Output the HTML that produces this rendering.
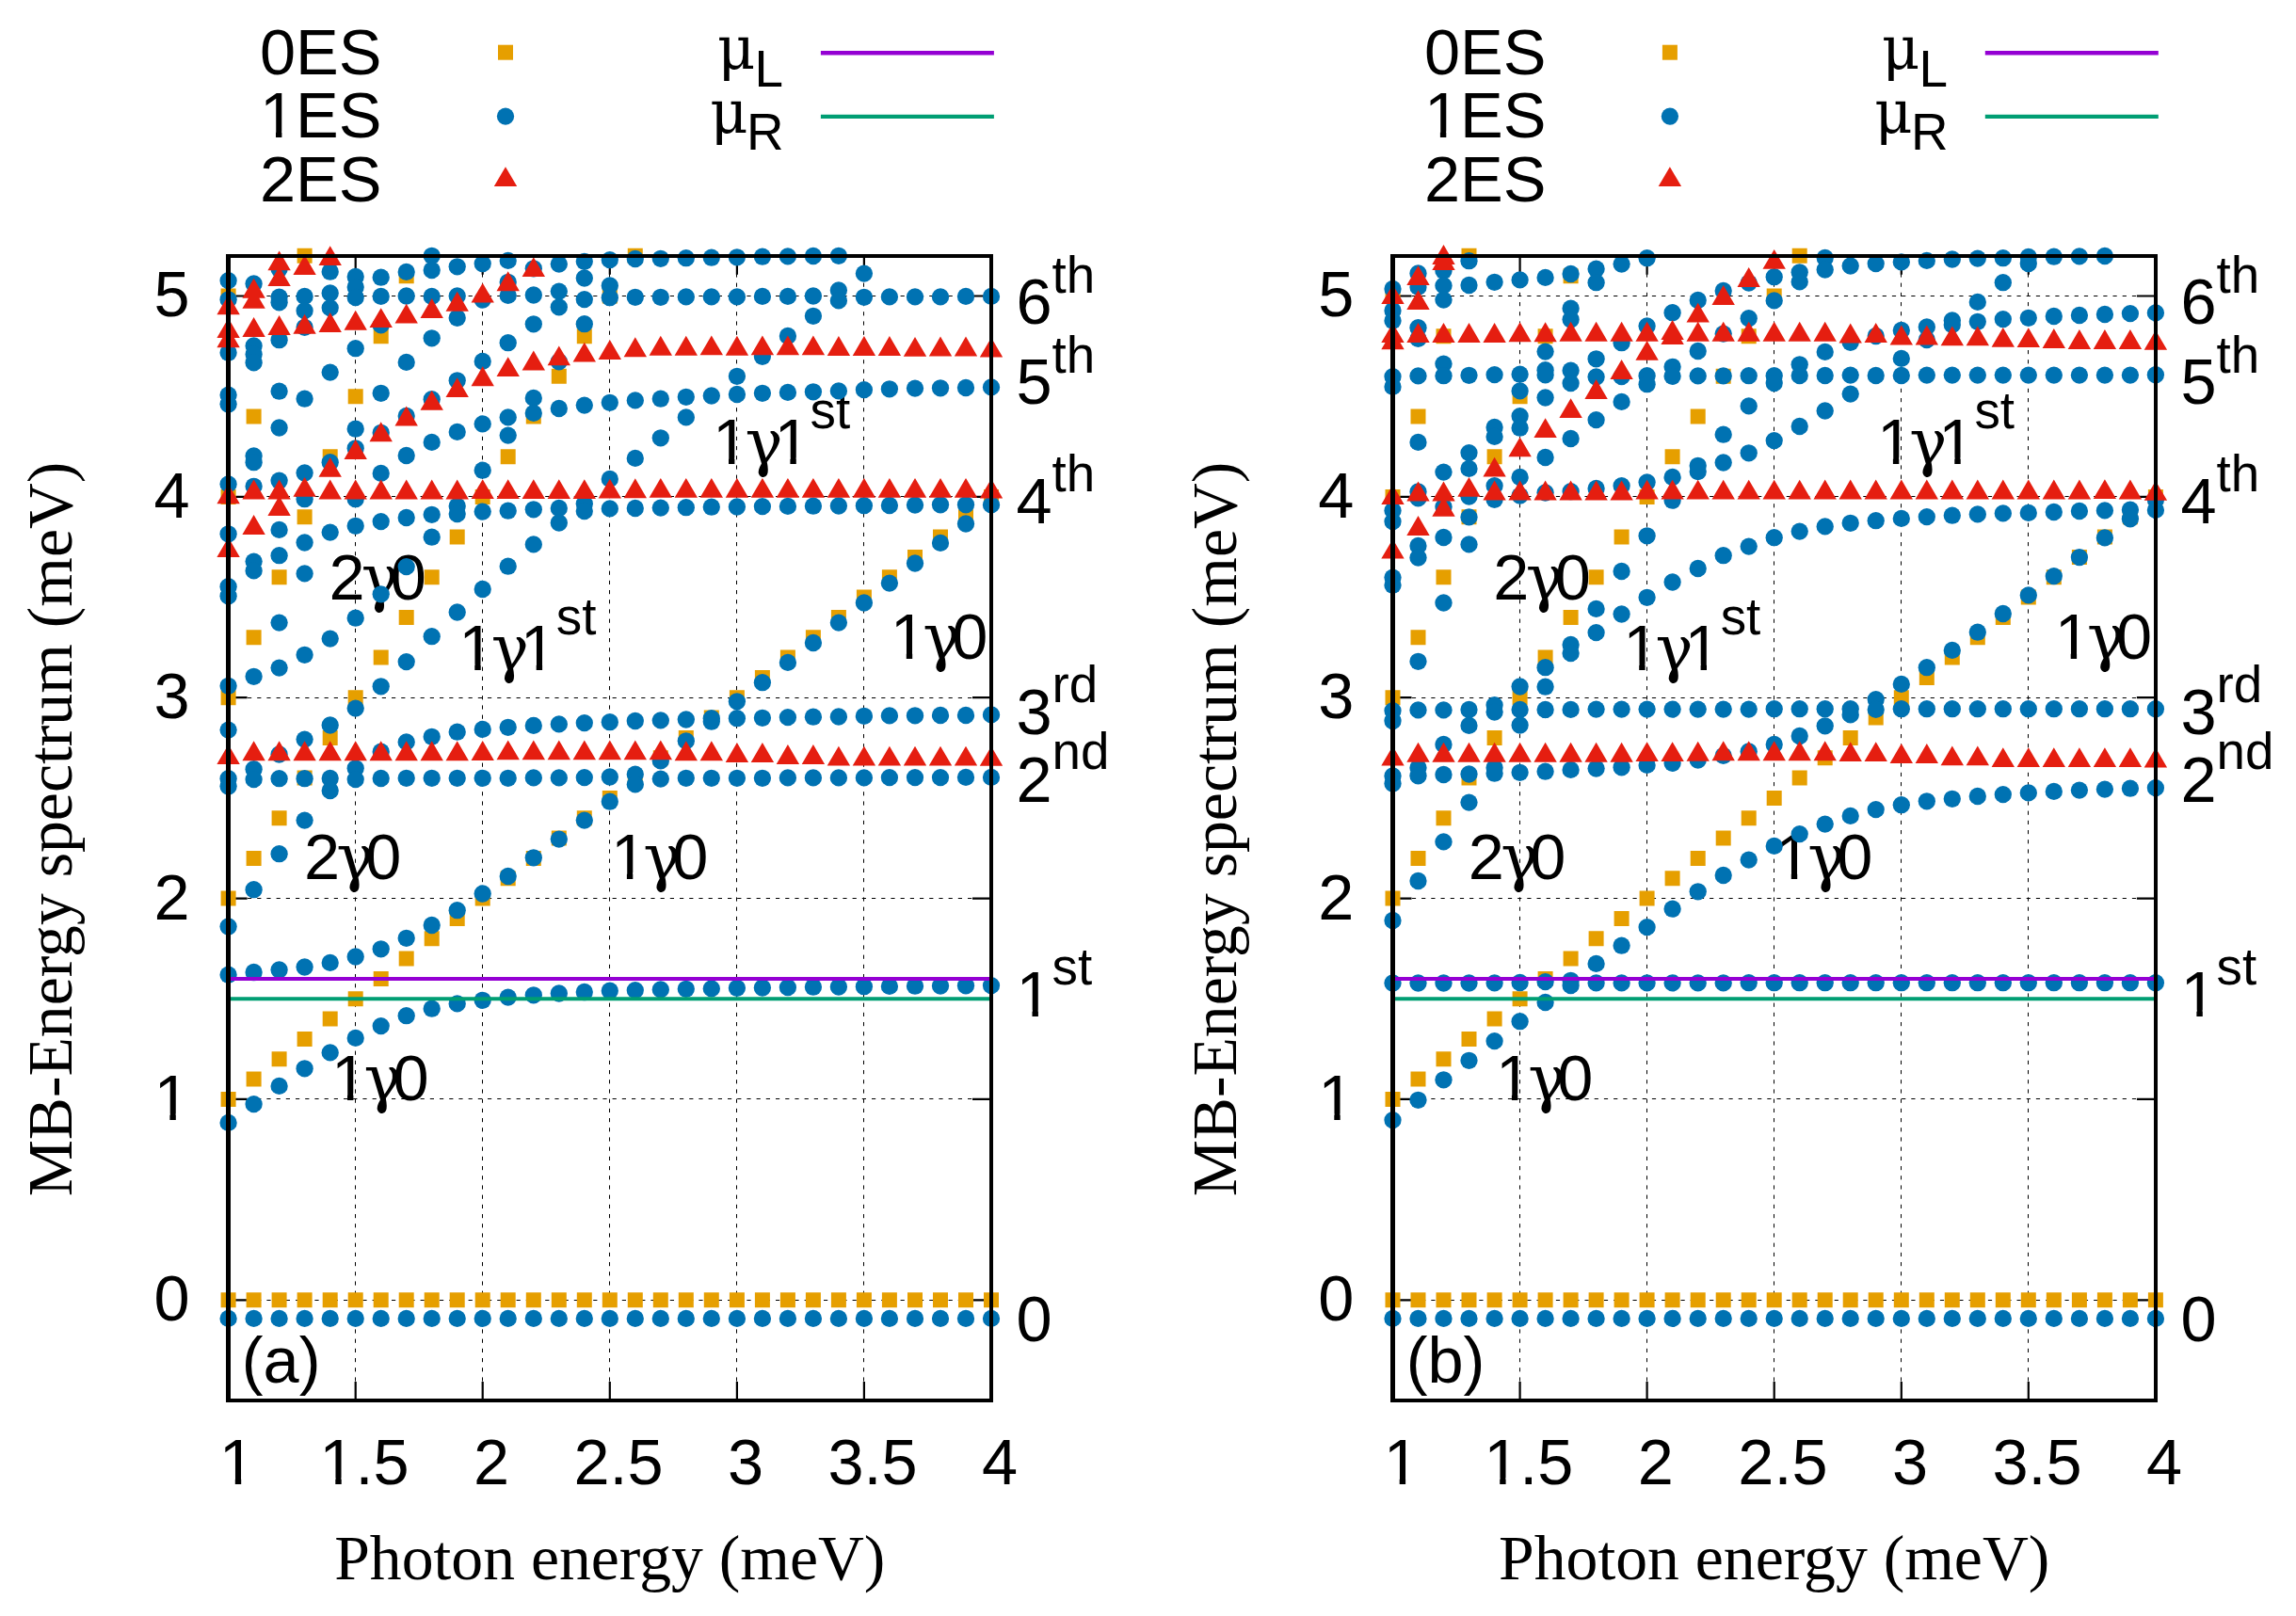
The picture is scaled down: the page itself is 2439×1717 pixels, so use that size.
<!DOCTYPE html>
<html lang="en"><head><meta charset="utf-8"><title>MB-Energy spectrum vs photon energy</title>
<style>
html,body{margin:0;padding:0;background:#fff;}
body{width:2439px;height:1717px;overflow:hidden;}
svg{display:block;}
text{fill:#000;}
.sa{font-family:"Liberation Sans", Arial, Helvetica, sans-serif;font-size:68.5px;}
.ss{font-family:"Liberation Sans", Arial, Helvetica, sans-serif;font-size:54.8px;}
.se{font-family:"Liberation Serif", "Times New Roman", Times, serif;font-size:67.7px;}
.gk{font-family:"DejaVu Serif", "Liberation Serif", serif;font-size:67px;}
.mu{font-family:"DejaVu Serif", "Liberation Serif", serif;font-size:62px;}
.grid{stroke:#000;stroke-width:1;stroke-dasharray:4.2 6;fill:none;}
.tick{stroke:#000;stroke-width:2.2;fill:none;}
.bord{stroke:#000;stroke-width:4.4;fill:none;}
.sq{fill:#E69F00;}.ci{fill:#0072B2;}.tr{fill:#E51E10;}
</style></head><body>
<svg width="2439" height="1717" viewBox="0 0 2439 1717">
<rect x="0" y="0" width="2439" height="1717" fill="#fff"/>
<defs>
<clipPath id="c1" clipPathUnits="userSpaceOnUse"><path clip-rule="evenodd" d="M-400 -300H900V300H-400ZM3.5 -6.6H17V1.5H3.5ZM23.4 -6.6H36.5V1.5H23.4Z"/></clipPath>
<clipPath id="c11" clipPathUnits="userSpaceOnUse"><path clip-rule="evenodd" d="M-400 -300H900V300H-400ZM3.5 -6.6H17V1.5H3.5ZM23.4 -6.6H36.5V1.5H23.4ZM68.9 -6.6H82.4V1.5H68.9ZM88.8 -6.6H101.9V1.5H88.8Z"/></clipPath>
<clipPath id="c01" clipPathUnits="userSpaceOnUse"><path clip-rule="evenodd" d="M-400 -300H900V300H-400ZM68.9 -6.6H82.4V1.5H68.9ZM88.8 -6.6H101.9V1.5H88.8Z"/></clipPath>
</defs>
<g id="panel-a">
<path class="grid" d="M242.6 1381.5H1053M242.6 1167.5H1053M242.6 954.5H1053M242.6 741.5H1053M242.6 527.5H1053M242.6 314.5H1053M377.5 1488V271.8M512.5 1488V271.8M647.5 1488V271.8M782.5 1488V271.8M917.5 1488V271.8"/>
<path class="tick" d="M242.6 1381.3h20M1053 1381.3h-20M242.6 1167.9h20M1053 1167.9h-20M242.6 954.6h20M1053 954.6h-20M242.6 741.2h20M1053 741.2h-20M242.6 527.9h20M1053 527.9h-20M242.6 314.5h20M1053 314.5h-20M377.7 1488v-20M377.7 271.8v20M512.7 1488v-20M512.7 271.8v20M647.8 1488v-20M647.8 271.8v20M782.9 1488v-20M782.9 271.8v20M917.9 1488v-20M917.9 271.8v20"/>
<text class="sa" transform="translate(256.8 1468.7) scale(1 1.01)">(a)</text>
<text class="sa" transform="translate(352 1168.5) scale(1 1.01)" clip-path="url(#c1)"><tspan x="0">1</tspan><tspan class="gk" x="34.4">γ</tspan><tspan x="65.4">0</tspan></text>
<text class="sa" transform="translate(322.9 933.8) scale(1 1.01)"><tspan x="0">2</tspan><tspan class="gk" x="34.4">γ</tspan><tspan x="65.4">0</tspan></text>
<text class="sa" transform="translate(648.9 934) scale(1 1.01)" clip-path="url(#c1)"><tspan x="0">1</tspan><tspan class="gk" x="34.4">γ</tspan><tspan x="65.4">0</tspan></text>
<text class="sa" transform="translate(945.8 700.1) scale(1 1.01)" clip-path="url(#c1)"><tspan x="0">1</tspan><tspan class="gk" x="34.4">γ</tspan><tspan x="65.4">0</tspan></text>
<text class="sa" transform="translate(349.4 636.5) scale(1 1.01)"><tspan x="0">2</tspan><tspan class="gk" x="34.4">γ</tspan><tspan x="65.4">0</tspan></text>
<text class="sa" transform="translate(487.3 712.4) scale(1 1.01)" clip-path="url(#c11)"><tspan x="0">1</tspan><tspan class="gk" x="34.4">γ</tspan><tspan x="65.4">1</tspan><tspan class="ss" dy="-38">st</tspan></text>
<text class="sa" transform="translate(757 492.9) scale(1 1.01)" clip-path="url(#c11)"><tspan x="0">1</tspan><tspan class="gk" x="34.4">γ</tspan><tspan x="65.4">1</tspan><tspan class="ss" dy="-38">st</tspan></text>
<path class="sq" d="M234.6 1373.3h16v16h-16zM234.6 1159.9h16v16h-16zM234.6 946.6h16v16h-16zM234.6 733.2h16v16h-16zM234.6 519.9h16v16h-16zM234.6 306.5h16v16h-16zM261.6 1373.3h16v16h-16zM261.6 1138.6h16v16h-16zM261.6 903.9h16v16h-16zM261.6 669.2h16v16h-16zM261.6 434.5h16v16h-16zM288.6 1373.3h16v16h-16zM288.6 1117.3h16v16h-16zM288.6 861.2h16v16h-16zM288.6 605.2h16v16h-16zM288.6 349.2h16v16h-16zM315.6 1373.3h16v16h-16zM315.6 1095.9h16v16h-16zM315.6 818.6h16v16h-16zM315.6 541.2h16v16h-16zM315.6 263.8h16v16h-16zM342.7 1373.3h16v16h-16zM342.7 1074.6h16v16h-16zM342.7 775.9h16v16h-16zM342.7 477.2h16v16h-16zM369.7 1373.3h16v16h-16zM369.7 1053.3h16v16h-16zM369.7 733.2h16v16h-16zM369.7 413.2h16v16h-16zM396.7 1373.3h16v16h-16zM396.7 1031.9h16v16h-16zM396.7 690.5h16v16h-16zM396.7 349.2h16v16h-16zM423.7 1373.3h16v16h-16zM423.7 1010.6h16v16h-16zM423.7 647.9h16v16h-16zM423.7 285.2h16v16h-16zM450.7 1373.3h16v16h-16zM450.7 989.3h16v16h-16zM450.7 605.2h16v16h-16zM477.7 1373.3h16v16h-16zM477.7 967.9h16v16h-16zM477.7 562.5h16v16h-16zM504.7 1373.3h16v16h-16zM504.7 946.6h16v16h-16zM504.7 519.9h16v16h-16zM531.7 1373.3h16v16h-16zM531.7 925.2h16v16h-16zM531.7 477.2h16v16h-16zM558.8 1373.3h16v16h-16zM558.8 903.9h16v16h-16zM558.8 434.5h16v16h-16zM585.8 1373.3h16v16h-16zM585.8 882.6h16v16h-16zM585.8 391.8h16v16h-16zM612.8 1373.3h16v16h-16zM612.8 861.2h16v16h-16zM612.8 349.2h16v16h-16zM639.8 1373.3h16v16h-16zM639.8 839.9h16v16h-16zM639.8 306.5h16v16h-16zM666.8 1373.3h16v16h-16zM666.8 818.6h16v16h-16zM666.8 263.8h16v16h-16zM693.8 1373.3h16v16h-16zM693.8 797.2h16v16h-16zM720.8 1373.3h16v16h-16zM720.8 775.9h16v16h-16zM747.8 1373.3h16v16h-16zM747.8 754.6h16v16h-16zM774.9 1373.3h16v16h-16zM774.9 733.2h16v16h-16zM801.9 1373.3h16v16h-16zM801.9 711.9h16v16h-16zM828.9 1373.3h16v16h-16zM828.9 690.5h16v16h-16zM855.9 1373.3h16v16h-16zM855.9 669.2h16v16h-16zM882.9 1373.3h16v16h-16zM882.9 647.9h16v16h-16zM909.9 1373.3h16v16h-16zM909.9 626.5h16v16h-16zM936.9 1373.3h16v16h-16zM936.9 605.2h16v16h-16zM964 1373.3h16v16h-16zM964 583.9h16v16h-16zM991 1373.3h16v16h-16zM991 562.5h16v16h-16zM1018 1373.3h16v16h-16zM1018 541.2h16v16h-16zM1045 1373.3h16v16h-16zM1045 519.9h16v16h-16z"/>
<g class="ci"><circle cx="242.6" cy="298.1" r="9.15"/><circle cx="242.6" cy="318.3" r="9.15"/><circle cx="242.6" cy="374.7" r="9.15"/><circle cx="242.6" cy="419.7" r="9.15"/><circle cx="242.6" cy="429.5" r="9.15"/><circle cx="242.6" cy="514.4" r="9.15"/><circle cx="242.6" cy="567.3" r="9.15"/><circle cx="242.6" cy="623.2" r="9.15"/><circle cx="242.6" cy="633.3" r="9.15"/><circle cx="242.6" cy="728.8" r="9.15"/><circle cx="242.6" cy="775.6" r="9.15"/><circle cx="242.6" cy="827.2" r="9.15"/><circle cx="242.6" cy="835.5" r="9.15"/><circle cx="242.6" cy="984.5" r="9.15"/><circle cx="242.6" cy="1035.7" r="9.15"/><circle cx="242.6" cy="1192.9" r="9.15"/><circle cx="242.6" cy="1400.9" r="9.15"/><circle cx="269.6" cy="301.5" r="9.15"/><circle cx="269.6" cy="367.4" r="9.15"/><circle cx="269.6" cy="376.4" r="9.15"/><circle cx="269.6" cy="385.3" r="9.15"/><circle cx="269.6" cy="484.5" r="9.15"/><circle cx="269.6" cy="491.2" r="9.15"/><circle cx="269.6" cy="516.8" r="9.15"/><circle cx="269.6" cy="596.6" r="9.15"/><circle cx="269.6" cy="606.4" r="9.15"/><circle cx="269.6" cy="718.8" r="9.15"/><circle cx="269.6" cy="817.2" r="9.15"/><circle cx="269.6" cy="828.1" r="9.15"/><circle cx="269.6" cy="945.2" r="9.15"/><circle cx="269.6" cy="1033" r="9.15"/><circle cx="269.6" cy="1173.1" r="9.15"/><circle cx="269.6" cy="1400.9" r="9.15"/><circle cx="296.6" cy="285.7" r="9.15"/><circle cx="296.6" cy="315.6" r="9.15"/><circle cx="296.6" cy="321.3" r="9.15"/><circle cx="296.6" cy="361.2" r="9.15"/><circle cx="296.6" cy="415.7" r="9.15"/><circle cx="296.6" cy="454.5" r="9.15"/><circle cx="296.6" cy="510.7" r="9.15"/><circle cx="296.6" cy="562.9" r="9.15"/><circle cx="296.6" cy="590.2" r="9.15"/><circle cx="296.6" cy="661.6" r="9.15"/><circle cx="296.6" cy="709.6" r="9.15"/><circle cx="296.6" cy="801.5" r="9.15"/><circle cx="296.6" cy="827.2" r="9.15"/><circle cx="296.6" cy="907.2" r="9.15"/><circle cx="296.6" cy="1030.5" r="9.15"/><circle cx="296.6" cy="1153.9" r="9.15"/><circle cx="296.6" cy="1400.9" r="9.15"/><circle cx="323.6" cy="314.9" r="9.15"/><circle cx="323.6" cy="330.1" r="9.15"/><circle cx="323.6" cy="347.8" r="9.15"/><circle cx="323.6" cy="423.7" r="9.15"/><circle cx="323.6" cy="502.5" r="9.15"/><circle cx="323.6" cy="530.2" r="9.15"/><circle cx="323.6" cy="576.5" r="9.15"/><circle cx="323.6" cy="609.4" r="9.15"/><circle cx="323.6" cy="695.8" r="9.15"/><circle cx="323.6" cy="785.6" r="9.15"/><circle cx="323.6" cy="827.2" r="9.15"/><circle cx="323.6" cy="871.6" r="9.15"/><circle cx="323.6" cy="1027.5" r="9.15"/><circle cx="323.6" cy="1135.3" r="9.15"/><circle cx="323.6" cy="1400.9" r="9.15"/><circle cx="350.7" cy="288.7" r="9.15"/><circle cx="350.7" cy="311.5" r="9.15"/><circle cx="350.7" cy="327.1" r="9.15"/><circle cx="350.7" cy="395.6" r="9.15"/><circle cx="350.7" cy="491.2" r="9.15"/><circle cx="350.7" cy="565.6" r="9.15"/><circle cx="350.7" cy="678.6" r="9.15"/><circle cx="350.7" cy="770.5" r="9.15"/><circle cx="350.7" cy="827" r="9.15"/><circle cx="350.7" cy="840" r="9.15"/><circle cx="350.7" cy="1022.9" r="9.15"/><circle cx="350.7" cy="1118.4" r="9.15"/><circle cx="350.7" cy="1400.9" r="9.15"/><circle cx="377.7" cy="294" r="9.15"/><circle cx="377.7" cy="304.9" r="9.15"/><circle cx="377.7" cy="316" r="9.15"/><circle cx="377.7" cy="370.2" r="9.15"/><circle cx="377.7" cy="455.7" r="9.15"/><circle cx="377.7" cy="476.3" r="9.15"/><circle cx="377.7" cy="530.2" r="9.15"/><circle cx="377.7" cy="558.8" r="9.15"/><circle cx="377.7" cy="656.7" r="9.15"/><circle cx="377.7" cy="752.6" r="9.15"/><circle cx="377.7" cy="816.3" r="9.15"/><circle cx="377.7" cy="828.1" r="9.15"/><circle cx="377.7" cy="1016.5" r="9.15"/><circle cx="377.7" cy="1102.9" r="9.15"/><circle cx="377.7" cy="1400.9" r="9.15"/><circle cx="404.7" cy="294.7" r="9.15"/><circle cx="404.7" cy="314.9" r="9.15"/><circle cx="404.7" cy="345.4" r="9.15"/><circle cx="404.7" cy="417.8" r="9.15"/><circle cx="404.7" cy="459.8" r="9.15"/><circle cx="404.7" cy="502.9" r="9.15"/><circle cx="404.7" cy="554.1" r="9.15"/><circle cx="404.7" cy="631.3" r="9.15"/><circle cx="404.7" cy="729.3" r="9.15"/><circle cx="404.7" cy="798.7" r="9.15"/><circle cx="404.7" cy="827" r="9.15"/><circle cx="404.7" cy="1008.3" r="9.15"/><circle cx="404.7" cy="1090.1" r="9.15"/><circle cx="404.7" cy="1400.9" r="9.15"/><circle cx="431.7" cy="288.9" r="9.15"/><circle cx="431.7" cy="314.5" r="9.15"/><circle cx="431.7" cy="384.9" r="9.15"/><circle cx="431.7" cy="441.9" r="9.15"/><circle cx="431.7" cy="484" r="9.15"/><circle cx="431.7" cy="550" r="9.15"/><circle cx="431.7" cy="602.1" r="9.15"/><circle cx="431.7" cy="703.1" r="9.15"/><circle cx="431.7" cy="788.4" r="9.15"/><circle cx="431.7" cy="826.8" r="9.15"/><circle cx="431.7" cy="996.8" r="9.15"/><circle cx="431.7" cy="1079.2" r="9.15"/><circle cx="431.7" cy="1400.9" r="9.15"/><circle cx="458.7" cy="271.8" r="9.15"/><circle cx="458.7" cy="287" r="9.15"/><circle cx="458.7" cy="314.9" r="9.15"/><circle cx="458.7" cy="359.3" r="9.15"/><circle cx="458.7" cy="424.2" r="9.15"/><circle cx="458.7" cy="469.9" r="9.15"/><circle cx="458.7" cy="546.8" r="9.15"/><circle cx="458.7" cy="570.7" r="9.15"/><circle cx="458.7" cy="676.2" r="9.15"/><circle cx="458.7" cy="782.8" r="9.15"/><circle cx="458.7" cy="826.8" r="9.15"/><circle cx="458.7" cy="983" r="9.15"/><circle cx="458.7" cy="1071.7" r="9.15"/><circle cx="458.7" cy="1400.9" r="9.15"/><circle cx="485.7" cy="283.3" r="9.15"/><circle cx="485.7" cy="314.5" r="9.15"/><circle cx="485.7" cy="337.8" r="9.15"/><circle cx="485.7" cy="404.3" r="9.15"/><circle cx="485.7" cy="458.9" r="9.15"/><circle cx="485.7" cy="537.7" r="9.15"/><circle cx="485.7" cy="546" r="9.15"/><circle cx="485.7" cy="650.5" r="9.15"/><circle cx="485.7" cy="777.7" r="9.15"/><circle cx="485.7" cy="826.8" r="9.15"/><circle cx="485.7" cy="967.2" r="9.15"/><circle cx="485.7" cy="1066.4" r="9.15"/><circle cx="485.7" cy="1400.9" r="9.15"/><circle cx="512.7" cy="280.1" r="9.15"/><circle cx="512.7" cy="318.6" r="9.15"/><circle cx="512.7" cy="383.9" r="9.15"/><circle cx="512.7" cy="450.4" r="9.15"/><circle cx="512.7" cy="499.7" r="9.15"/><circle cx="512.7" cy="543.6" r="9.15"/><circle cx="512.7" cy="626" r="9.15"/><circle cx="512.7" cy="774.9" r="9.15"/><circle cx="512.7" cy="826.8" r="9.15"/><circle cx="512.7" cy="949.5" r="9.15"/><circle cx="512.7" cy="1062.8" r="9.15"/><circle cx="512.7" cy="1400.9" r="9.15"/><circle cx="539.7" cy="276.9" r="9.15"/><circle cx="539.7" cy="299.8" r="9.15"/><circle cx="539.7" cy="313.9" r="9.15"/><circle cx="539.7" cy="364.2" r="9.15"/><circle cx="539.7" cy="443.4" r="9.15"/><circle cx="539.7" cy="462.6" r="9.15"/><circle cx="539.7" cy="542.7" r="9.15"/><circle cx="539.7" cy="601.7" r="9.15"/><circle cx="539.7" cy="772.8" r="9.15"/><circle cx="539.7" cy="826.8" r="9.15"/><circle cx="539.7" cy="931" r="9.15"/><circle cx="539.7" cy="1059.6" r="9.15"/><circle cx="539.7" cy="1400.9" r="9.15"/><circle cx="566.8" cy="285.3" r="9.15"/><circle cx="566.8" cy="313.5" r="9.15"/><circle cx="566.8" cy="344.3" r="9.15"/><circle cx="566.8" cy="422.9" r="9.15"/><circle cx="566.8" cy="438.9" r="9.15"/><circle cx="566.8" cy="541.3" r="9.15"/><circle cx="566.8" cy="578.4" r="9.15"/><circle cx="566.8" cy="770.9" r="9.15"/><circle cx="566.8" cy="826.4" r="9.15"/><circle cx="566.8" cy="911.3" r="9.15"/><circle cx="566.8" cy="1057.3" r="9.15"/><circle cx="566.8" cy="1400.9" r="9.15"/><circle cx="593.8" cy="280.6" r="9.15"/><circle cx="593.8" cy="309.6" r="9.15"/><circle cx="593.8" cy="326.3" r="9.15"/><circle cx="593.8" cy="384.3" r="9.15"/><circle cx="593.8" cy="434" r="9.15"/><circle cx="593.8" cy="540" r="9.15"/><circle cx="593.8" cy="555.5" r="9.15"/><circle cx="593.8" cy="769.4" r="9.15"/><circle cx="593.8" cy="826.4" r="9.15"/><circle cx="593.8" cy="891.6" r="9.15"/><circle cx="593.8" cy="1055.5" r="9.15"/><circle cx="593.8" cy="1400.9" r="9.15"/><circle cx="620.8" cy="277.8" r="9.15"/><circle cx="620.8" cy="295.5" r="9.15"/><circle cx="620.8" cy="318.1" r="9.15"/><circle cx="620.8" cy="344.2" r="9.15"/><circle cx="620.8" cy="430.6" r="9.15"/><circle cx="620.8" cy="535.3" r="9.15"/><circle cx="620.8" cy="543" r="9.15"/><circle cx="620.8" cy="768.1" r="9.15"/><circle cx="620.8" cy="826.1" r="9.15"/><circle cx="620.8" cy="871.6" r="9.15"/><circle cx="620.8" cy="1054" r="9.15"/><circle cx="620.8" cy="1400.9" r="9.15"/><circle cx="647.8" cy="276.1" r="9.15"/><circle cx="647.8" cy="303.4" r="9.15"/><circle cx="647.8" cy="316.2" r="9.15"/><circle cx="647.8" cy="427.8" r="9.15"/><circle cx="647.8" cy="508.9" r="9.15"/><circle cx="647.8" cy="540.4" r="9.15"/><circle cx="647.8" cy="767.2" r="9.15"/><circle cx="647.8" cy="825.5" r="9.15"/><circle cx="647.8" cy="851.7" r="9.15"/><circle cx="647.8" cy="1052.7" r="9.15"/><circle cx="647.8" cy="1400.9" r="9.15"/><circle cx="674.8" cy="275" r="9.15"/><circle cx="674.8" cy="315.8" r="9.15"/><circle cx="674.8" cy="425.4" r="9.15"/><circle cx="674.8" cy="486.9" r="9.15"/><circle cx="674.8" cy="540" r="9.15"/><circle cx="674.8" cy="766" r="9.15"/><circle cx="674.8" cy="822.7" r="9.15"/><circle cx="674.8" cy="833.4" r="9.15"/><circle cx="674.8" cy="1052.1" r="9.15"/><circle cx="674.8" cy="1400.9" r="9.15"/><circle cx="701.8" cy="274.8" r="9.15"/><circle cx="701.8" cy="315.8" r="9.15"/><circle cx="701.8" cy="423.7" r="9.15"/><circle cx="701.8" cy="465.3" r="9.15"/><circle cx="701.8" cy="539.6" r="9.15"/><circle cx="701.8" cy="765.4" r="9.15"/><circle cx="701.8" cy="808.4" r="9.15"/><circle cx="701.8" cy="827.6" r="9.15"/><circle cx="701.8" cy="1051.4" r="9.15"/><circle cx="701.8" cy="1400.9" r="9.15"/><circle cx="728.8" cy="274.2" r="9.15"/><circle cx="728.8" cy="315.4" r="9.15"/><circle cx="728.8" cy="421.8" r="9.15"/><circle cx="728.8" cy="443.4" r="9.15"/><circle cx="728.8" cy="539.2" r="9.15"/><circle cx="728.8" cy="764.5" r="9.15"/><circle cx="728.8" cy="787.3" r="9.15"/><circle cx="728.8" cy="826.8" r="9.15"/><circle cx="728.8" cy="1050.8" r="9.15"/><circle cx="728.8" cy="1400.9" r="9.15"/><circle cx="755.8" cy="273.7" r="9.15"/><circle cx="755.8" cy="315.4" r="9.15"/><circle cx="755.8" cy="420.5" r="9.15"/><circle cx="755.8" cy="538.7" r="9.15"/><circle cx="755.8" cy="763.2" r="9.15"/><circle cx="755.8" cy="766.7" r="9.15"/><circle cx="755.8" cy="826.8" r="9.15"/><circle cx="755.8" cy="1050.4" r="9.15"/><circle cx="755.8" cy="1400.9" r="9.15"/><circle cx="782.9" cy="273.3" r="9.15"/><circle cx="782.9" cy="315.4" r="9.15"/><circle cx="782.9" cy="399.8" r="9.15"/><circle cx="782.9" cy="419" r="9.15"/><circle cx="782.9" cy="538.5" r="9.15"/><circle cx="782.9" cy="745.3" r="9.15"/><circle cx="782.9" cy="763.2" r="9.15"/><circle cx="782.9" cy="826.8" r="9.15"/><circle cx="782.9" cy="1049.8" r="9.15"/><circle cx="782.9" cy="1400.9" r="9.15"/><circle cx="809.9" cy="272.7" r="9.15"/><circle cx="809.9" cy="314.9" r="9.15"/><circle cx="809.9" cy="378.8" r="9.15"/><circle cx="809.9" cy="417.8" r="9.15"/><circle cx="809.9" cy="538.1" r="9.15"/><circle cx="809.9" cy="725.2" r="9.15"/><circle cx="809.9" cy="762.8" r="9.15"/><circle cx="809.9" cy="826.8" r="9.15"/><circle cx="809.9" cy="1049.5" r="9.15"/><circle cx="809.9" cy="1400.9" r="9.15"/><circle cx="836.9" cy="272.4" r="9.15"/><circle cx="836.9" cy="314.9" r="9.15"/><circle cx="836.9" cy="357" r="9.15"/><circle cx="836.9" cy="416.9" r="9.15"/><circle cx="836.9" cy="537.9" r="9.15"/><circle cx="836.9" cy="703.9" r="9.15"/><circle cx="836.9" cy="762.1" r="9.15"/><circle cx="836.9" cy="826.4" r="9.15"/><circle cx="836.9" cy="1049.1" r="9.15"/><circle cx="836.9" cy="1400.9" r="9.15"/><circle cx="863.9" cy="272" r="9.15"/><circle cx="863.9" cy="314.5" r="9.15"/><circle cx="863.9" cy="335.8" r="9.15"/><circle cx="863.9" cy="416.3" r="9.15"/><circle cx="863.9" cy="537.7" r="9.15"/><circle cx="863.9" cy="683" r="9.15"/><circle cx="863.9" cy="761.7" r="9.15"/><circle cx="863.9" cy="826.4" r="9.15"/><circle cx="863.9" cy="1048.7" r="9.15"/><circle cx="863.9" cy="1400.9" r="9.15"/><circle cx="890.9" cy="271.8" r="9.15"/><circle cx="890.9" cy="308.5" r="9.15"/><circle cx="890.9" cy="319.4" r="9.15"/><circle cx="890.9" cy="415.4" r="9.15"/><circle cx="890.9" cy="537.5" r="9.15"/><circle cx="890.9" cy="661.6" r="9.15"/><circle cx="890.9" cy="761.5" r="9.15"/><circle cx="890.9" cy="826.4" r="9.15"/><circle cx="890.9" cy="1048.5" r="9.15"/><circle cx="890.9" cy="1400.9" r="9.15"/><circle cx="917.9" cy="290.6" r="9.15"/><circle cx="917.9" cy="315.8" r="9.15"/><circle cx="917.9" cy="414.1" r="9.15"/><circle cx="917.9" cy="537.2" r="9.15"/><circle cx="917.9" cy="640.5" r="9.15"/><circle cx="917.9" cy="760.8" r="9.15"/><circle cx="917.9" cy="826.4" r="9.15"/><circle cx="917.9" cy="1048.2" r="9.15"/><circle cx="917.9" cy="1400.9" r="9.15"/><circle cx="944.9" cy="315.4" r="9.15"/><circle cx="944.9" cy="413.3" r="9.15"/><circle cx="944.9" cy="537" r="9.15"/><circle cx="944.9" cy="619.6" r="9.15"/><circle cx="944.9" cy="760.4" r="9.15"/><circle cx="944.9" cy="826.1" r="9.15"/><circle cx="944.9" cy="1047.9" r="9.15"/><circle cx="944.9" cy="1400.9" r="9.15"/><circle cx="972" cy="315.4" r="9.15"/><circle cx="972" cy="412.6" r="9.15"/><circle cx="972" cy="536.6" r="9.15"/><circle cx="972" cy="598.5" r="9.15"/><circle cx="972" cy="760.3" r="9.15"/><circle cx="972" cy="826.1" r="9.15"/><circle cx="972" cy="1047.7" r="9.15"/><circle cx="972" cy="1400.9" r="9.15"/><circle cx="999" cy="315.4" r="9.15"/><circle cx="999" cy="412.3" r="9.15"/><circle cx="999" cy="536.3" r="9.15"/><circle cx="999" cy="576.9" r="9.15"/><circle cx="999" cy="760" r="9.15"/><circle cx="999" cy="826.1" r="9.15"/><circle cx="999" cy="1047.5" r="9.15"/><circle cx="999" cy="1400.9" r="9.15"/><circle cx="1026" cy="314.9" r="9.15"/><circle cx="1026" cy="412" r="9.15"/><circle cx="1026" cy="536.3" r="9.15"/><circle cx="1026" cy="556.5" r="9.15"/><circle cx="1026" cy="760" r="9.15"/><circle cx="1026" cy="825.9" r="9.15"/><circle cx="1026" cy="1047.3" r="9.15"/><circle cx="1026" cy="1400.9" r="9.15"/><circle cx="1053" cy="314.9" r="9.15"/><circle cx="1053" cy="411.4" r="9.15"/><circle cx="1053" cy="536.4" r="9.15"/><circle cx="1053" cy="759.4" r="9.15"/><circle cx="1053" cy="825.9" r="9.15"/><circle cx="1053" cy="1047.1" r="9.15"/><circle cx="1053" cy="1400.9" r="9.15"/></g>
<path class="tr" d="M242.6 313.3L254.8 334.2H230.4zM242.6 338.1L254.8 359H230.4zM242.6 348.3L254.8 369.2H230.4zM242.6 514.3L254.8 535.2H230.4zM242.6 571L254.8 591.9H230.4zM242.6 791L254.8 811.9H230.4zM269.6 295.8L281.8 316.7H257.4zM269.6 306.9L281.8 327.8H257.4zM269.6 337L281.8 357.9H257.4zM269.6 509.6L281.8 530.5H257.4zM269.6 547.1L281.8 568H257.4zM269.6 787.3L281.8 808.2H257.4zM296.6 266.4L308.8 287.3H284.4zM296.6 283.2L308.8 304.1H284.4zM296.6 335.1L308.8 356H284.4zM296.6 509.6L308.8 530.5H284.4zM296.6 527.1L308.8 548H284.4zM296.6 787.3L308.8 808.2H284.4zM323.6 271.1L335.8 292H311.4zM323.6 333.8L335.8 354.7H311.4zM323.6 506.9L335.8 527.8H311.4zM323.6 787.3L335.8 808.2H311.4zM350.7 261.2L362.9 282.1H338.5zM350.7 332.1L362.9 353H338.5zM350.7 485.9L362.9 506.8H338.5zM350.7 509.6L362.9 530.5H338.5zM350.7 787.3L362.9 808.2H338.5zM377.7 329.8L389.9 350.7H365.5zM377.7 467.1L389.9 488H365.5zM377.7 509.6L389.9 530.5H365.5zM377.7 787.3L389.9 808.2H365.5zM404.7 327.2L416.9 348.1H392.5zM404.7 448.3L416.9 469.2H392.5zM404.7 509.6L416.9 530.5H392.5zM404.7 787.3L416.9 808.2H392.5zM431.7 322.7L443.9 343.6H419.5zM431.7 431.5L443.9 452.4H419.5zM431.7 509.6L443.9 530.5H419.5zM431.7 787.3L443.9 808.2H419.5zM458.7 317.1L470.9 338H446.5zM458.7 414.9L470.9 435.8H446.5zM458.7 509.6L470.9 530.5H446.5zM458.7 787.3L470.9 808.2H446.5zM485.7 309.8L497.9 330.7H473.5zM485.7 401.2L497.9 422.1H473.5zM485.7 509.6L497.9 530.5H473.5zM485.7 787.3L497.9 808.2H473.5zM512.7 300.7L524.9 321.6H500.5zM512.7 389.3L524.9 410.2H500.5zM512.7 509.2L524.9 530.1H500.5zM512.7 787L524.9 807.9H500.5zM539.7 288.3L551.9 309.2H527.5zM539.7 379.2L551.9 400.1H527.5zM539.7 509.2L551.9 530.1H527.5zM539.7 786.4L551.9 807.3H527.5zM566.8 273.2L579 294.1H554.6zM566.8 372.5L579 393.4H554.6zM566.8 509.2L579 530.1H554.6zM566.8 786.4L579 807.3H554.6zM593.8 367.4L606 388.3H581.6zM593.8 509.2L606 530.1H581.6zM593.8 786.4L606 807.3H581.6zM620.8 363.7L633 384.6H608.6zM620.8 509.2L633 530.1H608.6zM620.8 786.4L633 807.3H608.6zM647.8 361L660 381.9H635.6zM647.8 508.7L660 529.6H635.6zM647.8 786.4L660 807.3H635.6zM674.8 358.3L687 379.2H662.6zM674.8 508.3L687 529.2H662.6zM674.8 786.4L687 807.3H662.6zM701.8 356.8L714 377.7H689.6zM701.8 507.9L714 528.8H689.6zM701.8 786.4L714 807.3H689.6zM728.8 356.8L741 377.7H716.6zM728.8 507.9L741 528.8H716.6zM728.8 787.3L741 808.2H716.6zM755.8 356.4L768 377.3H743.6zM755.8 507.9L768 528.8H743.6zM755.8 787.3L768 808.2H743.6zM782.9 356.8L795.1 377.7H770.7zM782.9 507.9L795.1 528.8H770.7zM782.9 789.1L795.1 810H770.7zM809.9 356.4L822.1 377.3H797.7zM809.9 507.9L822.1 528.8H797.7zM809.9 789.1L822.1 810H797.7zM836.9 356.4L849.1 377.3H824.7zM836.9 507.9L849.1 528.8H824.7zM836.9 791L849.1 811.9H824.7zM863.9 356.4L876.1 377.3H851.7zM863.9 507.9L876.1 528.8H851.7zM863.9 791L876.1 811.9H851.7zM890.9 357L903.1 377.9H878.7zM890.9 507.9L903.1 528.8H878.7zM890.9 792.7L903.1 813.6H878.7zM917.9 357L930.1 377.9H905.7zM917.9 507.9L930.1 528.8H905.7zM917.9 792.7L930.1 813.6H905.7zM944.9 357L957.1 377.9H932.7zM944.9 507.9L957.1 528.8H932.7zM944.9 792.7L957.1 813.6H932.7zM972 357.9L984.2 378.8H959.8zM972 507.9L984.2 528.8H959.8zM972 792.7L984.2 813.6H959.8zM999 357.5L1011.2 378.4H986.8zM999 507.9L1011.2 528.8H986.8zM999 792.7L1011.2 813.6H986.8zM1026 357.5L1038.2 378.4H1013.8zM1026 507.9L1038.2 528.8H1013.8zM1026 792.7L1038.2 813.6H1013.8zM1053 358.7L1065.2 379.6H1040.8zM1053 508.7L1065.2 529.6H1040.8zM1053 792.9L1065.2 813.8H1040.8z"/>
<path d="M242.6 1039.9H1053" stroke="#9400D3" stroke-width="4" fill="none"/>
<path d="M242.6 1061.3H1053" stroke="#009E73" stroke-width="4" fill="none"/>
<path fill="#000" d="M240 270H245V1490H240ZM1051 270H1055V1490H1051ZM240 270H1055V274H240ZM240 1486H1055V1490H240Z"/>
<text class="sa" transform="translate(163.4 1403.2) scale(1 1.01)">0</text>
<text class="sa" transform="translate(163.4 1189.8) scale(1 1.01)" clip-path="url(#c1)">1</text>
<text class="sa" transform="translate(163.4 976.5) scale(1 1.01)">2</text>
<text class="sa" transform="translate(163.4 763.1) scale(1 1.01)">3</text>
<text class="sa" transform="translate(163.4 549.8) scale(1 1.01)">4</text>
<text class="sa" transform="translate(163.4 336.4) scale(1 1.01)">5</text>
<text class="sa" transform="translate(232.8 1577) scale(1 1.01)" clip-path="url(#c1)">1</text>
<text class="sa" transform="translate(339.3 1577) scale(1 1.01)" clip-path="url(#c1)">1.5</text>
<text class="sa" transform="translate(502.9 1577) scale(1 1.01)">2</text>
<text class="sa" transform="translate(609.4 1577) scale(1 1.01)">2.5</text>
<text class="sa" transform="translate(773 1577) scale(1 1.01)">3</text>
<text class="sa" transform="translate(879.5 1577) scale(1 1.01)">3.5</text>
<text class="sa" transform="translate(1043.1 1577) scale(1 1.01)">4</text>
<text class="se" text-anchor="middle" x="647.8" y="1678">Photon energy (meV)</text>
<text class="se" text-anchor="middle" transform="translate(76.3 881) rotate(-90)" x="0" y="0">MB-Energy spectrum (meV)</text>
<text class="sa" transform="translate(1079.5 343.8) scale(1 1.01)">6<tspan class="ss" dy="-32.9">th</tspan></text>
<text class="sa" transform="translate(1079.5 428.8) scale(1 1.01)">5<tspan class="ss" dy="-32.9">th</tspan></text>
<text class="sa" transform="translate(1079.5 555.7) scale(1 1.01)">4<tspan class="ss" dy="-32.9">th</tspan></text>
<text class="sa" transform="translate(1079.5 779.5) scale(1 1.01)">3<tspan class="ss" dy="-32.9">rd</tspan></text>
<text class="sa" transform="translate(1079.5 851.9) scale(1 1.01)">2<tspan class="ss" dy="-34.8">nd</tspan></text>
<text class="sa" transform="translate(1079.5 1079.7) scale(1 1.01)" clip-path="url(#c1)">1<tspan class="ss" dy="-33.4">st</tspan></text>
<text class="sa" transform="translate(1079.5 1425) scale(1 1.01)">0</text>
<text class="sa" transform="translate(276 78.9) scale(1 1.01)">0ES</text>
<text class="sa" transform="translate(276 146.3) scale(1 1.01)" clip-path="url(#c1)">1ES</text>
<text class="sa" transform="translate(276 213.7) scale(1 1.01)">2ES</text>
<rect class="sq" x="529" y="47.7" width="16" height="16"/>
<circle class="ci" cx="537" cy="123.6" r="9.15"/>
<path class="tr" d="M537 177.2L549.2 198.1H524.8z"/>
<text class="mu" transform="translate(762 73) scale(1 1.01)">μ</text>
<text class="ss" transform="translate(801.6 91.5) scale(1 1.01)">L</text>
<text class="mu" transform="translate(754.3 140.6) scale(1 1.01)">μ</text>
<text class="ss" transform="translate(793.1 159.4) scale(1 1.01)">R</text>
<path d="M871.9 56.2H1055.9" stroke="#9400D3" stroke-width="4.4" fill="none"/>
<path d="M871.9 123.9H1055.9" stroke="#009E73" stroke-width="4.4" fill="none"/>
</g>
<g id="panel-b">
<path class="grid" d="M1479.5 1381.5H2289.9M1479.5 1167.5H2289.9M1479.5 954.5H2289.9M1479.5 741.5H2289.9M1479.5 527.5H2289.9M1479.5 314.5H2289.9M1614.5 1488V271.8M1749.5 1488V271.8M1884.5 1488V271.8M2019.5 1488V271.8M2154.5 1488V271.8"/>
<path class="tick" d="M1479.5 1381.3h20M2289.9 1381.3h-20M1479.5 1167.9h20M2289.9 1167.9h-20M1479.5 954.6h20M2289.9 954.6h-20M1479.5 741.2h20M2289.9 741.2h-20M1479.5 527.9h20M2289.9 527.9h-20M1479.5 314.5h20M2289.9 314.5h-20M1614.6 1488v-20M1614.6 271.8v20M1749.6 1488v-20M1749.6 271.8v20M1884.7 1488v-20M1884.7 271.8v20M2019.8 1488v-20M2019.8 271.8v20M2154.8 1488v-20M2154.8 271.8v20"/>
<text class="sa" transform="translate(1493.7 1468.7) scale(1 1.01)">(b)</text>
<text class="sa" transform="translate(1588.9 1168.5) scale(1 1.01)" clip-path="url(#c1)"><tspan x="0">1</tspan><tspan class="gk" x="34.4">γ</tspan><tspan x="65.4">0</tspan></text>
<text class="sa" transform="translate(1559.8 933.8) scale(1 1.01)"><tspan x="0">2</tspan><tspan class="gk" x="34.4">γ</tspan><tspan x="65.4">0</tspan></text>
<text class="sa" transform="translate(1885.8 934) scale(1 1.01)" clip-path="url(#c1)"><tspan x="0">1</tspan><tspan class="gk" x="34.4">γ</tspan><tspan x="65.4">0</tspan></text>
<text class="sa" transform="translate(2182.7 700.1) scale(1 1.01)" clip-path="url(#c1)"><tspan x="0">1</tspan><tspan class="gk" x="34.4">γ</tspan><tspan x="65.4">0</tspan></text>
<text class="sa" transform="translate(1586.3 636.5) scale(1 1.01)"><tspan x="0">2</tspan><tspan class="gk" x="34.4">γ</tspan><tspan x="65.4">0</tspan></text>
<text class="sa" transform="translate(1724.2 712.4) scale(1 1.01)" clip-path="url(#c11)"><tspan x="0">1</tspan><tspan class="gk" x="34.4">γ</tspan><tspan x="65.4">1</tspan><tspan class="ss" dy="-38">st</tspan></text>
<text class="sa" transform="translate(1993.9 492.9) scale(1 1.01)" clip-path="url(#c11)"><tspan x="0">1</tspan><tspan class="gk" x="34.4">γ</tspan><tspan x="65.4">1</tspan><tspan class="ss" dy="-38">st</tspan></text>
<path class="sq" d="M1471.5 1373.3h16v16h-16zM1471.5 1159.9h16v16h-16zM1471.5 946.6h16v16h-16zM1471.5 733.2h16v16h-16zM1471.5 519.9h16v16h-16zM1471.5 306.5h16v16h-16zM1498.5 1373.3h16v16h-16zM1498.5 1138.6h16v16h-16zM1498.5 903.9h16v16h-16zM1498.5 669.2h16v16h-16zM1498.5 434.5h16v16h-16zM1525.5 1373.3h16v16h-16zM1525.5 1117.3h16v16h-16zM1525.5 861.2h16v16h-16zM1525.5 605.2h16v16h-16zM1525.5 349.2h16v16h-16zM1552.5 1373.3h16v16h-16zM1552.5 1095.9h16v16h-16zM1552.5 818.6h16v16h-16zM1552.5 541.2h16v16h-16zM1552.5 263.8h16v16h-16zM1579.6 1373.3h16v16h-16zM1579.6 1074.6h16v16h-16zM1579.6 775.9h16v16h-16zM1579.6 477.2h16v16h-16zM1606.6 1373.3h16v16h-16zM1606.6 1053.3h16v16h-16zM1606.6 733.2h16v16h-16zM1606.6 413.2h16v16h-16zM1633.6 1373.3h16v16h-16zM1633.6 1031.9h16v16h-16zM1633.6 690.5h16v16h-16zM1633.6 349.2h16v16h-16zM1660.6 1373.3h16v16h-16zM1660.6 1010.6h16v16h-16zM1660.6 647.9h16v16h-16zM1660.6 285.2h16v16h-16zM1687.6 1373.3h16v16h-16zM1687.6 989.3h16v16h-16zM1687.6 605.2h16v16h-16zM1714.6 1373.3h16v16h-16zM1714.6 967.9h16v16h-16zM1714.6 562.5h16v16h-16zM1741.6 1373.3h16v16h-16zM1741.6 946.6h16v16h-16zM1741.6 519.9h16v16h-16zM1768.6 1373.3h16v16h-16zM1768.6 925.2h16v16h-16zM1768.6 477.2h16v16h-16zM1795.7 1373.3h16v16h-16zM1795.7 903.9h16v16h-16zM1795.7 434.5h16v16h-16zM1822.7 1373.3h16v16h-16zM1822.7 882.6h16v16h-16zM1822.7 391.8h16v16h-16zM1849.7 1373.3h16v16h-16zM1849.7 861.2h16v16h-16zM1849.7 349.2h16v16h-16zM1876.7 1373.3h16v16h-16zM1876.7 839.9h16v16h-16zM1876.7 306.5h16v16h-16zM1903.7 1373.3h16v16h-16zM1903.7 818.6h16v16h-16zM1903.7 263.8h16v16h-16zM1930.7 1373.3h16v16h-16zM1930.7 797.2h16v16h-16zM1957.7 1373.3h16v16h-16zM1957.7 775.9h16v16h-16zM1984.7 1373.3h16v16h-16zM1984.7 754.6h16v16h-16zM2011.8 1373.3h16v16h-16zM2011.8 733.2h16v16h-16zM2038.8 1373.3h16v16h-16zM2038.8 711.9h16v16h-16zM2065.8 1373.3h16v16h-16zM2065.8 690.5h16v16h-16zM2092.8 1373.3h16v16h-16zM2092.8 669.2h16v16h-16zM2119.8 1373.3h16v16h-16zM2119.8 647.9h16v16h-16zM2146.8 1373.3h16v16h-16zM2146.8 626.5h16v16h-16zM2173.8 1373.3h16v16h-16zM2173.8 605.2h16v16h-16zM2200.9 1373.3h16v16h-16zM2200.9 583.9h16v16h-16zM2227.9 1373.3h16v16h-16zM2227.9 562.5h16v16h-16zM2254.9 1373.3h16v16h-16zM2254.9 541.2h16v16h-16zM2281.9 1373.3h16v16h-16zM2281.9 519.9h16v16h-16z"/>
<g class="ci"><circle cx="1479.5" cy="307" r="9.15"/><circle cx="1479.5" cy="329.9" r="9.15"/><circle cx="1479.5" cy="340.7" r="9.15"/><circle cx="1479.5" cy="400.1" r="9.15"/><circle cx="1479.5" cy="410.9" r="9.15"/><circle cx="1479.5" cy="542.4" r="9.15"/><circle cx="1479.5" cy="554.1" r="9.15"/><circle cx="1479.5" cy="613.6" r="9.15"/><circle cx="1479.5" cy="621.7" r="9.15"/><circle cx="1479.5" cy="755.1" r="9.15"/><circle cx="1479.5" cy="766" r="9.15"/><circle cx="1479.5" cy="824.4" r="9.15"/><circle cx="1479.5" cy="832.5" r="9.15"/><circle cx="1479.5" cy="978" r="9.15"/><circle cx="1479.5" cy="1044.5" r="9.15"/><circle cx="1479.5" cy="1190.1" r="9.15"/><circle cx="1479.5" cy="1400.9" r="9.15"/><circle cx="1506.5" cy="290.4" r="9.15"/><circle cx="1506.5" cy="304.9" r="9.15"/><circle cx="1506.5" cy="348.2" r="9.15"/><circle cx="1506.5" cy="359.9" r="9.15"/><circle cx="1506.5" cy="399.4" r="9.15"/><circle cx="1506.5" cy="469.9" r="9.15"/><circle cx="1506.5" cy="522.5" r="9.15"/><circle cx="1506.5" cy="529.4" r="9.15"/><circle cx="1506.5" cy="579.9" r="9.15"/><circle cx="1506.5" cy="592.5" r="9.15"/><circle cx="1506.5" cy="702.8" r="9.15"/><circle cx="1506.5" cy="754.4" r="9.15"/><circle cx="1506.5" cy="815.7" r="9.15"/><circle cx="1506.5" cy="824.3" r="9.15"/><circle cx="1506.5" cy="936" r="9.15"/><circle cx="1506.5" cy="1044.5" r="9.15"/><circle cx="1506.5" cy="1168.8" r="9.15"/><circle cx="1506.5" cy="1400.9" r="9.15"/><circle cx="1533.5" cy="287.8" r="9.15"/><circle cx="1533.5" cy="303.4" r="9.15"/><circle cx="1533.5" cy="318.6" r="9.15"/><circle cx="1533.5" cy="386.6" r="9.15"/><circle cx="1533.5" cy="399.2" r="9.15"/><circle cx="1533.5" cy="501.6" r="9.15"/><circle cx="1533.5" cy="538.5" r="9.15"/><circle cx="1533.5" cy="571" r="9.15"/><circle cx="1533.5" cy="640.5" r="9.15"/><circle cx="1533.5" cy="754.4" r="9.15"/><circle cx="1533.5" cy="791" r="9.15"/><circle cx="1533.5" cy="823" r="9.15"/><circle cx="1533.5" cy="894.4" r="9.15"/><circle cx="1533.5" cy="1044.5" r="9.15"/><circle cx="1533.5" cy="1147.3" r="9.15"/><circle cx="1533.5" cy="1400.9" r="9.15"/><circle cx="1560.5" cy="277.2" r="9.15"/><circle cx="1560.5" cy="303" r="9.15"/><circle cx="1560.5" cy="398.8" r="9.15"/><circle cx="1560.5" cy="481.1" r="9.15"/><circle cx="1560.5" cy="497.9" r="9.15"/><circle cx="1560.5" cy="527.5" r="9.15"/><circle cx="1560.5" cy="549.4" r="9.15"/><circle cx="1560.5" cy="578.4" r="9.15"/><circle cx="1560.5" cy="754" r="9.15"/><circle cx="1560.5" cy="770.9" r="9.15"/><circle cx="1560.5" cy="822.5" r="9.15"/><circle cx="1560.5" cy="852.6" r="9.15"/><circle cx="1560.5" cy="1044.5" r="9.15"/><circle cx="1560.5" cy="1126.8" r="9.15"/><circle cx="1560.5" cy="1400.9" r="9.15"/><circle cx="1587.6" cy="299.8" r="9.15"/><circle cx="1587.6" cy="398.1" r="9.15"/><circle cx="1587.6" cy="454" r="9.15"/><circle cx="1587.6" cy="463.9" r="9.15"/><circle cx="1587.6" cy="516.1" r="9.15"/><circle cx="1587.6" cy="530.8" r="9.15"/><circle cx="1587.6" cy="749.1" r="9.15"/><circle cx="1587.6" cy="756.6" r="9.15"/><circle cx="1587.6" cy="815.7" r="9.15"/><circle cx="1587.6" cy="821.7" r="9.15"/><circle cx="1587.6" cy="1044.4" r="9.15"/><circle cx="1587.6" cy="1106.1" r="9.15"/><circle cx="1587.6" cy="1400.9" r="9.15"/><circle cx="1614.6" cy="297.4" r="9.15"/><circle cx="1614.6" cy="397.7" r="9.15"/><circle cx="1614.6" cy="415.4" r="9.15"/><circle cx="1614.6" cy="442.1" r="9.15"/><circle cx="1614.6" cy="454.7" r="9.15"/><circle cx="1614.6" cy="507" r="9.15"/><circle cx="1614.6" cy="526.6" r="9.15"/><circle cx="1614.6" cy="729.5" r="9.15"/><circle cx="1614.6" cy="754" r="9.15"/><circle cx="1614.6" cy="770.5" r="9.15"/><circle cx="1614.6" cy="820.8" r="9.15"/><circle cx="1614.6" cy="1044" r="9.15"/><circle cx="1614.6" cy="1085.2" r="9.15"/><circle cx="1614.6" cy="1400.9" r="9.15"/><circle cx="1641.6" cy="294.9" r="9.15"/><circle cx="1641.6" cy="373.6" r="9.15"/><circle cx="1641.6" cy="393.2" r="9.15"/><circle cx="1641.6" cy="398.4" r="9.15"/><circle cx="1641.6" cy="422.5" r="9.15"/><circle cx="1641.6" cy="486" r="9.15"/><circle cx="1641.6" cy="523.5" r="9.15"/><circle cx="1641.6" cy="709.2" r="9.15"/><circle cx="1641.6" cy="729.7" r="9.15"/><circle cx="1641.6" cy="754" r="9.15"/><circle cx="1641.6" cy="819.7" r="9.15"/><circle cx="1641.6" cy="1043.1" r="9.15"/><circle cx="1641.6" cy="1065" r="9.15"/><circle cx="1641.6" cy="1400.9" r="9.15"/><circle cx="1668.6" cy="291" r="9.15"/><circle cx="1668.6" cy="327.7" r="9.15"/><circle cx="1668.6" cy="339.5" r="9.15"/><circle cx="1668.6" cy="393.7" r="9.15"/><circle cx="1668.6" cy="407.1" r="9.15"/><circle cx="1668.6" cy="466" r="9.15"/><circle cx="1668.6" cy="522.1" r="9.15"/><circle cx="1668.6" cy="685" r="9.15"/><circle cx="1668.6" cy="694" r="9.15"/><circle cx="1668.6" cy="753.9" r="9.15"/><circle cx="1668.6" cy="817.9" r="9.15"/><circle cx="1668.6" cy="1041.8" r="9.15"/><circle cx="1668.6" cy="1047.1" r="9.15"/><circle cx="1668.6" cy="1400.9" r="9.15"/><circle cx="1695.6" cy="285.7" r="9.15"/><circle cx="1695.6" cy="300.2" r="9.15"/><circle cx="1695.6" cy="381.3" r="9.15"/><circle cx="1695.6" cy="400.5" r="9.15"/><circle cx="1695.6" cy="446.1" r="9.15"/><circle cx="1695.6" cy="518.9" r="9.15"/><circle cx="1695.6" cy="646.9" r="9.15"/><circle cx="1695.6" cy="672.1" r="9.15"/><circle cx="1695.6" cy="753.6" r="9.15"/><circle cx="1695.6" cy="816.6" r="9.15"/><circle cx="1695.6" cy="1023.9" r="9.15"/><circle cx="1695.6" cy="1044.4" r="9.15"/><circle cx="1695.6" cy="1400.9" r="9.15"/><circle cx="1722.6" cy="280.6" r="9.15"/><circle cx="1722.6" cy="364.2" r="9.15"/><circle cx="1722.6" cy="400.1" r="9.15"/><circle cx="1722.6" cy="426.9" r="9.15"/><circle cx="1722.6" cy="516.1" r="9.15"/><circle cx="1722.6" cy="607" r="9.15"/><circle cx="1722.6" cy="652.5" r="9.15"/><circle cx="1722.6" cy="753.6" r="9.15"/><circle cx="1722.6" cy="815.3" r="9.15"/><circle cx="1722.6" cy="1004.7" r="9.15"/><circle cx="1722.6" cy="1044.4" r="9.15"/><circle cx="1722.6" cy="1400.9" r="9.15"/><circle cx="1749.6" cy="274.2" r="9.15"/><circle cx="1749.6" cy="346.5" r="9.15"/><circle cx="1749.6" cy="399.2" r="9.15"/><circle cx="1749.6" cy="408.2" r="9.15"/><circle cx="1749.6" cy="512.5" r="9.15"/><circle cx="1749.6" cy="569.3" r="9.15"/><circle cx="1749.6" cy="634.8" r="9.15"/><circle cx="1749.6" cy="753.6" r="9.15"/><circle cx="1749.6" cy="812.9" r="9.15"/><circle cx="1749.6" cy="985.1" r="9.15"/><circle cx="1749.6" cy="1044.4" r="9.15"/><circle cx="1749.6" cy="1400.9" r="9.15"/><circle cx="1776.6" cy="332.2" r="9.15"/><circle cx="1776.6" cy="389.8" r="9.15"/><circle cx="1776.6" cy="399.8" r="9.15"/><circle cx="1776.6" cy="507" r="9.15"/><circle cx="1776.6" cy="531.7" r="9.15"/><circle cx="1776.6" cy="618.5" r="9.15"/><circle cx="1776.6" cy="753.6" r="9.15"/><circle cx="1776.6" cy="810.8" r="9.15"/><circle cx="1776.6" cy="965.7" r="9.15"/><circle cx="1776.6" cy="1044.4" r="9.15"/><circle cx="1776.6" cy="1400.9" r="9.15"/><circle cx="1803.7" cy="319" r="9.15"/><circle cx="1803.7" cy="373" r="9.15"/><circle cx="1803.7" cy="399.4" r="9.15"/><circle cx="1803.7" cy="494.8" r="9.15"/><circle cx="1803.7" cy="501" r="9.15"/><circle cx="1803.7" cy="604" r="9.15"/><circle cx="1803.7" cy="753.6" r="9.15"/><circle cx="1803.7" cy="807.6" r="9.15"/><circle cx="1803.7" cy="947.3" r="9.15"/><circle cx="1803.7" cy="1044.4" r="9.15"/><circle cx="1803.7" cy="1400.9" r="9.15"/><circle cx="1830.7" cy="309" r="9.15"/><circle cx="1830.7" cy="354.6" r="9.15"/><circle cx="1830.7" cy="399.4" r="9.15"/><circle cx="1830.7" cy="461.7" r="9.15"/><circle cx="1830.7" cy="491.5" r="9.15"/><circle cx="1830.7" cy="590.2" r="9.15"/><circle cx="1830.7" cy="753.6" r="9.15"/><circle cx="1830.7" cy="802.9" r="9.15"/><circle cx="1830.7" cy="930" r="9.15"/><circle cx="1830.7" cy="1044.4" r="9.15"/><circle cx="1830.7" cy="1400.9" r="9.15"/><circle cx="1857.7" cy="300.6" r="9.15"/><circle cx="1857.7" cy="338.2" r="9.15"/><circle cx="1857.7" cy="399.2" r="9.15"/><circle cx="1857.7" cy="431.4" r="9.15"/><circle cx="1857.7" cy="481.3" r="9.15"/><circle cx="1857.7" cy="580.6" r="9.15"/><circle cx="1857.7" cy="753.6" r="9.15"/><circle cx="1857.7" cy="798.4" r="9.15"/><circle cx="1857.7" cy="913.6" r="9.15"/><circle cx="1857.7" cy="1044.2" r="9.15"/><circle cx="1857.7" cy="1400.9" r="9.15"/><circle cx="1884.7" cy="294.2" r="9.15"/><circle cx="1884.7" cy="319.4" r="9.15"/><circle cx="1884.7" cy="399.2" r="9.15"/><circle cx="1884.7" cy="407.1" r="9.15"/><circle cx="1884.7" cy="468.1" r="9.15"/><circle cx="1884.7" cy="571.2" r="9.15"/><circle cx="1884.7" cy="753.2" r="9.15"/><circle cx="1884.7" cy="791" r="9.15"/><circle cx="1884.7" cy="898.9" r="9.15"/><circle cx="1884.7" cy="1044.2" r="9.15"/><circle cx="1884.7" cy="1400.9" r="9.15"/><circle cx="1911.7" cy="289.3" r="9.15"/><circle cx="1911.7" cy="299.4" r="9.15"/><circle cx="1911.7" cy="387.3" r="9.15"/><circle cx="1911.7" cy="399" r="9.15"/><circle cx="1911.7" cy="453" r="9.15"/><circle cx="1911.7" cy="564.6" r="9.15"/><circle cx="1911.7" cy="753.2" r="9.15"/><circle cx="1911.7" cy="782" r="9.15"/><circle cx="1911.7" cy="886.1" r="9.15"/><circle cx="1911.7" cy="1044.2" r="9.15"/><circle cx="1911.7" cy="1400.9" r="9.15"/><circle cx="1938.7" cy="274" r="9.15"/><circle cx="1938.7" cy="286.5" r="9.15"/><circle cx="1938.7" cy="373.9" r="9.15"/><circle cx="1938.7" cy="399" r="9.15"/><circle cx="1938.7" cy="436.5" r="9.15"/><circle cx="1938.7" cy="559.4" r="9.15"/><circle cx="1938.7" cy="753.2" r="9.15"/><circle cx="1938.7" cy="771.3" r="9.15"/><circle cx="1938.7" cy="875.6" r="9.15"/><circle cx="1938.7" cy="1044.2" r="9.15"/><circle cx="1938.7" cy="1400.9" r="9.15"/><circle cx="1965.7" cy="282.5" r="9.15"/><circle cx="1965.7" cy="363.8" r="9.15"/><circle cx="1965.7" cy="398.6" r="9.15"/><circle cx="1965.7" cy="418.6" r="9.15"/><circle cx="1965.7" cy="555.8" r="9.15"/><circle cx="1965.7" cy="753.2" r="9.15"/><circle cx="1965.7" cy="759.4" r="9.15"/><circle cx="1965.7" cy="866.9" r="9.15"/><circle cx="1965.7" cy="1044.2" r="9.15"/><circle cx="1965.7" cy="1400.9" r="9.15"/><circle cx="1992.7" cy="280.1" r="9.15"/><circle cx="1992.7" cy="357" r="9.15"/><circle cx="1992.7" cy="399" r="9.15"/><circle cx="1992.7" cy="553.2" r="9.15"/><circle cx="1992.7" cy="743.1" r="9.15"/><circle cx="1992.7" cy="753.9" r="9.15"/><circle cx="1992.7" cy="860.1" r="9.15"/><circle cx="1992.7" cy="1044.2" r="9.15"/><circle cx="1992.7" cy="1400.9" r="9.15"/><circle cx="2019.8" cy="278.4" r="9.15"/><circle cx="2019.8" cy="351" r="9.15"/><circle cx="2019.8" cy="380.9" r="9.15"/><circle cx="2019.8" cy="399" r="9.15"/><circle cx="2019.8" cy="550.9" r="9.15"/><circle cx="2019.8" cy="726.9" r="9.15"/><circle cx="2019.8" cy="753.2" r="9.15"/><circle cx="2019.8" cy="855.2" r="9.15"/><circle cx="2019.8" cy="1044.2" r="9.15"/><circle cx="2019.8" cy="1400.9" r="9.15"/><circle cx="2046.8" cy="276.9" r="9.15"/><circle cx="2046.8" cy="347.4" r="9.15"/><circle cx="2046.8" cy="361" r="9.15"/><circle cx="2046.8" cy="398.6" r="9.15"/><circle cx="2046.8" cy="549.1" r="9.15"/><circle cx="2046.8" cy="709.2" r="9.15"/><circle cx="2046.8" cy="753.2" r="9.15"/><circle cx="2046.8" cy="851.3" r="9.15"/><circle cx="2046.8" cy="1044.2" r="9.15"/><circle cx="2046.8" cy="1400.9" r="9.15"/><circle cx="2073.8" cy="275.5" r="9.15"/><circle cx="2073.8" cy="340.5" r="9.15"/><circle cx="2073.8" cy="345" r="9.15"/><circle cx="2073.8" cy="398.6" r="9.15"/><circle cx="2073.8" cy="547.7" r="9.15"/><circle cx="2073.8" cy="690.9" r="9.15"/><circle cx="2073.8" cy="753.2" r="9.15"/><circle cx="2073.8" cy="848.8" r="9.15"/><circle cx="2073.8" cy="1044.2" r="9.15"/><circle cx="2073.8" cy="1400.9" r="9.15"/><circle cx="2100.8" cy="274.6" r="9.15"/><circle cx="2100.8" cy="320.9" r="9.15"/><circle cx="2100.8" cy="341.8" r="9.15"/><circle cx="2100.8" cy="398.6" r="9.15"/><circle cx="2100.8" cy="546.4" r="9.15"/><circle cx="2100.8" cy="671.7" r="9.15"/><circle cx="2100.8" cy="753.2" r="9.15"/><circle cx="2100.8" cy="846" r="9.15"/><circle cx="2100.8" cy="1044.2" r="9.15"/><circle cx="2100.8" cy="1400.9" r="9.15"/><circle cx="2127.8" cy="274.2" r="9.15"/><circle cx="2127.8" cy="300.2" r="9.15"/><circle cx="2127.8" cy="339.1" r="9.15"/><circle cx="2127.8" cy="398.6" r="9.15"/><circle cx="2127.8" cy="545.4" r="9.15"/><circle cx="2127.8" cy="652" r="9.15"/><circle cx="2127.8" cy="753.2" r="9.15"/><circle cx="2127.8" cy="844.1" r="9.15"/><circle cx="2127.8" cy="1044.2" r="9.15"/><circle cx="2127.8" cy="1400.9" r="9.15"/><circle cx="2154.8" cy="272.9" r="9.15"/><circle cx="2154.8" cy="280.1" r="9.15"/><circle cx="2154.8" cy="337.8" r="9.15"/><circle cx="2154.8" cy="398.6" r="9.15"/><circle cx="2154.8" cy="544.9" r="9.15"/><circle cx="2154.8" cy="632.4" r="9.15"/><circle cx="2154.8" cy="753.2" r="9.15"/><circle cx="2154.8" cy="842.4" r="9.15"/><circle cx="2154.8" cy="1044.2" r="9.15"/><circle cx="2154.8" cy="1400.9" r="9.15"/><circle cx="2181.8" cy="272.7" r="9.15"/><circle cx="2181.8" cy="336" r="9.15"/><circle cx="2181.8" cy="398.6" r="9.15"/><circle cx="2181.8" cy="544" r="9.15"/><circle cx="2181.8" cy="612.1" r="9.15"/><circle cx="2181.8" cy="753.2" r="9.15"/><circle cx="2181.8" cy="840.9" r="9.15"/><circle cx="2181.8" cy="1044.2" r="9.15"/><circle cx="2181.8" cy="1400.9" r="9.15"/><circle cx="2208.9" cy="272.4" r="9.15"/><circle cx="2208.9" cy="335" r="9.15"/><circle cx="2208.9" cy="398.6" r="9.15"/><circle cx="2208.9" cy="543" r="9.15"/><circle cx="2208.9" cy="592.1" r="9.15"/><circle cx="2208.9" cy="753.2" r="9.15"/><circle cx="2208.9" cy="839.6" r="9.15"/><circle cx="2208.9" cy="1044.2" r="9.15"/><circle cx="2208.9" cy="1400.9" r="9.15"/><circle cx="2235.9" cy="272" r="9.15"/><circle cx="2235.9" cy="334" r="9.15"/><circle cx="2235.9" cy="398.6" r="9.15"/><circle cx="2235.9" cy="542.4" r="9.15"/><circle cx="2235.9" cy="571.4" r="9.15"/><circle cx="2235.9" cy="753.2" r="9.15"/><circle cx="2235.9" cy="838.6" r="9.15"/><circle cx="2235.9" cy="1044.2" r="9.15"/><circle cx="2235.9" cy="1400.9" r="9.15"/><circle cx="2262.9" cy="333.1" r="9.15"/><circle cx="2262.9" cy="398.6" r="9.15"/><circle cx="2262.9" cy="541.7" r="9.15"/><circle cx="2262.9" cy="551.3" r="9.15"/><circle cx="2262.9" cy="753.2" r="9.15"/><circle cx="2262.9" cy="837.7" r="9.15"/><circle cx="2262.9" cy="1044.2" r="9.15"/><circle cx="2262.9" cy="1400.9" r="9.15"/><circle cx="2289.9" cy="332.4" r="9.15"/><circle cx="2289.9" cy="398.2" r="9.15"/><circle cx="2289.9" cy="531.1" r="9.15"/><circle cx="2289.9" cy="541.9" r="9.15"/><circle cx="2289.9" cy="753.2" r="9.15"/><circle cx="2289.9" cy="837.1" r="9.15"/><circle cx="2289.9" cy="1044.2" r="9.15"/><circle cx="2289.9" cy="1400.9" r="9.15"/></g>
<path class="tr" d="M1479.5 302.2L1491.7 323.1H1467.3zM1479.5 343.2L1491.7 364.1H1467.3zM1479.5 350.4L1491.7 371.3H1467.3zM1479.5 515.1L1491.7 536H1467.3zM1479.5 572.7L1491.7 593.6H1467.3zM1479.5 792.7L1491.7 813.6H1467.3zM1506.5 282.2L1518.7 303.1H1494.3zM1506.5 308.2L1518.7 329.1H1494.3zM1506.5 343L1518.7 363.9H1494.3zM1506.5 511.5L1518.7 532.4H1494.3zM1506.5 548L1518.7 568.9H1494.3zM1506.5 788.8L1518.7 809.7H1494.3zM1533.5 260L1545.7 280.9H1521.3zM1533.5 266.1L1545.7 287H1521.3zM1533.5 343L1545.7 363.9H1521.3zM1533.5 511.5L1545.7 532.4H1521.3zM1533.5 527.9L1545.7 548.8H1521.3zM1533.5 788.8L1545.7 809.7H1521.3zM1560.5 343L1572.7 363.9H1548.3zM1560.5 506.9L1572.7 527.8H1548.3zM1560.5 788.8L1572.7 809.7H1548.3zM1587.6 343L1599.8 363.9H1575.4zM1587.6 485.7L1599.8 506.6H1575.4zM1587.6 510.6L1599.8 531.5H1575.4zM1587.6 788.8L1599.8 809.7H1575.4zM1614.6 342.3L1626.8 363.2H1602.4zM1614.6 464.4L1626.8 485.3H1602.4zM1614.6 510.6L1626.8 531.5H1602.4zM1614.6 788.8L1626.8 809.7H1602.4zM1641.6 342.3L1653.8 363.2H1629.4zM1641.6 444.2L1653.8 465.1H1629.4zM1641.6 510.6L1653.8 531.5H1629.4zM1641.6 788.8L1653.8 809.7H1629.4zM1668.6 341.8L1680.8 362.7H1656.4zM1668.6 423.2L1680.8 444.1H1656.4zM1668.6 510.6L1680.8 531.5H1656.4zM1668.6 788.8L1680.8 809.7H1656.4zM1695.6 341.8L1707.8 362.7H1683.4zM1695.6 403.1L1707.8 424H1683.4zM1695.6 510.6L1707.8 531.5H1683.4zM1695.6 788.8L1707.8 809.7H1683.4zM1722.6 341.8L1734.8 362.7H1710.4zM1722.6 382L1734.8 402.9H1710.4zM1722.6 510.6L1734.8 531.5H1710.4zM1722.6 788.8L1734.8 809.7H1710.4zM1749.6 341.8L1761.8 362.7H1737.4zM1749.6 361.9L1761.8 382.8H1737.4zM1749.6 509.7L1761.8 530.6H1737.4zM1749.6 788.2L1761.8 809.1H1737.4zM1776.6 340L1788.8 360.9H1764.4zM1776.6 345.1L1788.8 366H1764.4zM1776.6 509.7L1788.8 530.6H1764.4zM1776.6 788.2L1788.8 809.1H1764.4zM1803.7 321.7L1815.9 342.6H1791.5zM1803.7 341.8L1815.9 362.7H1791.5zM1803.7 509.7L1815.9 530.6H1791.5zM1803.7 787.8L1815.9 808.7H1791.5zM1830.7 303.1L1842.9 324H1818.5zM1830.7 341.8L1842.9 362.7H1818.5zM1830.7 509.7L1842.9 530.6H1818.5zM1830.7 787.3L1842.9 808.2H1818.5zM1857.7 284.1L1869.9 305H1845.5zM1857.7 341.8L1869.9 362.7H1845.5zM1857.7 509.7L1869.9 530.6H1845.5zM1857.7 787.3L1869.9 808.2H1845.5zM1884.7 264.9L1896.9 285.8H1872.5zM1884.7 341.8L1896.9 362.7H1872.5zM1884.7 509.7L1896.9 530.6H1872.5zM1884.7 787.3L1896.9 808.2H1872.5zM1911.7 341.8L1923.9 362.7H1899.5zM1911.7 509.7L1923.9 530.6H1899.5zM1911.7 787.3L1923.9 808.2H1899.5zM1938.7 341.8L1950.9 362.7H1926.5zM1938.7 509.6L1950.9 530.5H1926.5zM1938.7 787.3L1950.9 808.2H1926.5zM1965.7 343.6L1977.9 364.5H1953.5zM1965.7 509.6L1977.9 530.5H1953.5zM1965.7 788.2L1977.9 809.1H1953.5zM1992.7 343.1L2004.9 364H1980.5zM1992.7 509.6L2004.9 530.5H1980.5zM1992.7 788.2L2004.9 809.1H1980.5zM2019.8 345.5L2032 366.4H2007.6zM2019.8 509.6L2032 530.5H2007.6zM2019.8 790L2032 810.9H2007.6zM2046.8 345.5L2059 366.4H2034.6zM2046.8 509.6L2059 530.5H2034.6zM2046.8 790L2059 810.9H2034.6zM2073.8 346.4L2086 367.3H2061.6zM2073.8 509.6L2086 530.5H2061.6zM2073.8 792.4L2086 813.3H2061.6zM2100.8 346.4L2113 367.3H2088.6zM2100.8 509.6L2113 530.5H2088.6zM2100.8 792.4L2113 813.3H2088.6zM2127.8 347.9L2140 368.8H2115.6zM2127.8 509.6L2140 530.5H2115.6zM2127.8 794.2L2140 815.1H2115.6zM2154.8 348.2L2167 369.1H2142.6zM2154.8 509.6L2167 530.5H2142.6zM2154.8 794.2L2167 815.1H2142.6zM2181.8 349.1L2194 370H2169.6zM2181.8 509.6L2194 530.5H2169.6zM2181.8 794.2L2194 815.1H2169.6zM2208.9 350L2221.1 370.9H2196.7zM2208.9 509.6L2221.1 530.5H2196.7zM2208.9 794.2L2221.1 815.1H2196.7zM2235.9 350L2248.1 370.9H2223.7zM2235.9 509.2L2248.1 530.1H2223.7zM2235.9 794.2L2248.1 815.1H2223.7zM2262.9 350L2275.1 370.9H2250.7zM2262.9 509.6L2275.1 530.5H2250.7zM2262.9 794.2L2275.1 815.1H2250.7zM2289.9 350.9L2302.1 371.8H2277.7zM2289.9 510.9L2302.1 531.8H2277.7zM2289.9 794.6L2302.1 815.5H2277.7z"/>
<path d="M1479.5 1039.9H2289.9" stroke="#9400D3" stroke-width="4" fill="none"/>
<path d="M1479.5 1061.3H2289.9" stroke="#009E73" stroke-width="4" fill="none"/>
<path fill="#000" d="M1477 270H1482V1490H1477ZM2288 270H2292V1490H2288ZM1477 270H2292V274H1477ZM1477 1486H2292V1490H1477Z"/>
<text class="sa" transform="translate(1400.3 1403.2) scale(1 1.01)">0</text>
<text class="sa" transform="translate(1400.3 1189.8) scale(1 1.01)" clip-path="url(#c1)">1</text>
<text class="sa" transform="translate(1400.3 976.5) scale(1 1.01)">2</text>
<text class="sa" transform="translate(1400.3 763.1) scale(1 1.01)">3</text>
<text class="sa" transform="translate(1400.3 549.8) scale(1 1.01)">4</text>
<text class="sa" transform="translate(1400.3 336.4) scale(1 1.01)">5</text>
<text class="sa" transform="translate(1469.7 1577) scale(1 1.01)" clip-path="url(#c1)">1</text>
<text class="sa" transform="translate(1576.2 1577) scale(1 1.01)" clip-path="url(#c1)">1.5</text>
<text class="sa" transform="translate(1739.8 1577) scale(1 1.01)">2</text>
<text class="sa" transform="translate(1846.3 1577) scale(1 1.01)">2.5</text>
<text class="sa" transform="translate(2009.9 1577) scale(1 1.01)">3</text>
<text class="sa" transform="translate(2116.4 1577) scale(1 1.01)">3.5</text>
<text class="sa" transform="translate(2280 1577) scale(1 1.01)">4</text>
<text class="se" text-anchor="middle" x="1884.7" y="1678">Photon energy (meV)</text>
<text class="se" text-anchor="middle" transform="translate(1313.2 881) rotate(-90)" x="0" y="0">MB-Energy spectrum (meV)</text>
<text class="sa" transform="translate(2316.4 343.8) scale(1 1.01)">6<tspan class="ss" dy="-32.9">th</tspan></text>
<text class="sa" transform="translate(2316.4 428.8) scale(1 1.01)">5<tspan class="ss" dy="-32.9">th</tspan></text>
<text class="sa" transform="translate(2316.4 555.7) scale(1 1.01)">4<tspan class="ss" dy="-32.9">th</tspan></text>
<text class="sa" transform="translate(2316.4 779.5) scale(1 1.01)">3<tspan class="ss" dy="-32.9">rd</tspan></text>
<text class="sa" transform="translate(2316.4 851.9) scale(1 1.01)">2<tspan class="ss" dy="-34.8">nd</tspan></text>
<text class="sa" transform="translate(2316.4 1079.7) scale(1 1.01)" clip-path="url(#c1)">1<tspan class="ss" dy="-33.4">st</tspan></text>
<text class="sa" transform="translate(2316.4 1425) scale(1 1.01)">0</text>
<text class="sa" transform="translate(1512.9 78.9) scale(1 1.01)">0ES</text>
<text class="sa" transform="translate(1512.9 146.3) scale(1 1.01)" clip-path="url(#c1)">1ES</text>
<text class="sa" transform="translate(1512.9 213.7) scale(1 1.01)">2ES</text>
<rect class="sq" x="1765.9" y="47.7" width="16" height="16"/>
<circle class="ci" cx="1773.9" cy="123.6" r="9.15"/>
<path class="tr" d="M1773.9 177.2L1786.1 198.1H1761.7z"/>
<text class="mu" transform="translate(1998.9 73) scale(1 1.01)">μ</text>
<text class="ss" transform="translate(2038.5 91.5) scale(1 1.01)">L</text>
<text class="mu" transform="translate(1991.2 140.6) scale(1 1.01)">μ</text>
<text class="ss" transform="translate(2030 159.4) scale(1 1.01)">R</text>
<path d="M2108.8 56.2H2292.8" stroke="#9400D3" stroke-width="4.4" fill="none"/>
<path d="M2108.8 123.9H2292.8" stroke="#009E73" stroke-width="4.4" fill="none"/>
</g>
</svg></body></html>
